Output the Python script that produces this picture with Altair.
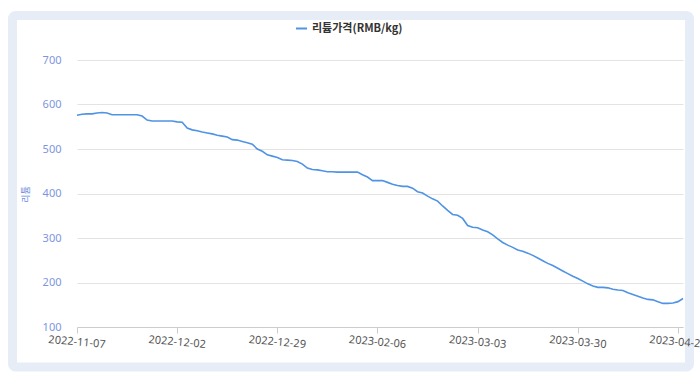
import altair as alt
import pandas as pd

# lithium price (RMB/kg), one value per category (trading day)
prices = [576, 578, 579, 579, 581, 582, 581, 577, 577, 577,
          577, 577, 577, 574, 565, 563, 563, 563, 563, 563,
          561, 560, 547, 543, 541, 538, 536, 534, 531, 529,
          527, 521, 520, 517, 514, 511, 500, 495, 487, 484,
          481, 476, 475, 474, 472, 466, 457, 454, 453, 451,
          449, 449, 448, 448, 448, 448, 448, 442, 437, 429,
          429, 429, 425, 421, 418, 416, 416, 412, 404, 401,
          394, 388, 383, 372, 362, 353, 351, 344, 328, 324,
          323, 318, 314, 307, 298, 290, 284, 279, 273, 270,
          266, 261, 255, 249, 243, 238, 232, 226, 220, 214,
          209, 203, 197, 192, 189, 189, 188, 185, 183, 182,
          177, 173, 169, 165, 162, 161, 157, 153, 153, 154,
          157, 164]

tick_index = [0, 20, 40, 60, 80, 100, 120]
tick_labels = ["2022-11-07", "2022-12-02", "2022-12-29", "2023-02-06",
               "2023-03-03", "2023-03-30", "2023-04-27"]

series_name = "리튬가격(RMB/kg)"

df = pd.DataFrame({
    "idx": list(range(len(prices))),
    "price": prices,
    "series": [series_name] * len(prices),
})

label_expr = "[" + ",".join("'" + t + "'" for t in tick_labels) + "][round(datum.value/20)]"

LINE_COLOR = "#4f93e4"
FONT = "Noto Sans"
KFONT = "Noto Sans CJK KR"

frame = alt.Chart(alt.Data(values=[{"a": 1}])).mark_rect(
    fillOpacity=0, stroke="#e6edf7", strokeWidth=9, cornerRadius=3
).encode(
    x=alt.value(-64.5), x2=alt.value(612.5),
    y=alt.value(-44.5), y2=alt.value(307),
)

line = alt.Chart(df).mark_line(strokeWidth=1.6, interpolate="linear").encode(
    x=alt.X("idx:Q",
            scale=alt.Scale(domain=[0, len(prices) - 1], nice=False, zero=False),
            axis=alt.Axis(values=tick_index, labelExpr=label_expr, title=None,
                          grid=False, domain=True, domainColor="#cccccc",
                          ticks=True, tickColor="#cccccc", tickSize=6,
                          labelAngle=5, labelAlign="center", labelBaseline="top",
                          labelPadding=3, labelColor="#555555", labelFontSize=11,
                          labelFont=FONT, labelOverlap=False, labelFlush=False,
                          zindex=1)),
    y=alt.Y("price:Q",
            scale=alt.Scale(domain=[100, 700], nice=False, zero=False),
            axis=alt.Axis(values=[100, 200, 300, 400, 500, 600, 700],
                          title="리튬", titleFont=KFONT, titleFontSize=9,
                          titleFontWeight="normal", titleColor="#6a8be0",
                          titleX=-47, titleY=134, titleAngle=-90,
                          grid=True, gridColor="#e3e3e3", gridWidth=1,
                          domain=False, ticks=False, labelPadding=16,
                          labelColor="#7d95e0", labelFontSize=11, labelFont=FONT)),
    color=alt.Color("series:N",
                    scale=alt.Scale(domain=[series_name], range=[LINE_COLOR]),
                    legend=alt.Legend(title=None, orient="none", legendX=218,
                                      legendY=-38, symbolType="stroke",
                                      symbolStrokeWidth=2, symbolSize=120,
                                      labelFont=KFONT, labelFontSize=11,
                                      labelColor="#333333", labelFontWeight="bold")),
)

chart = alt.layer(frame, line).properties(
    width=606, height=267,
    autosize=alt.AutoSizeParams(type="none"),
    padding={"left": 77, "top": 60, "right": 17, "bottom": 50},
    background="#ffffff",
).configure_view(strokeWidth=0)

chart.save("out.html", embed_options={"renderer": "svg", "actions": False})
